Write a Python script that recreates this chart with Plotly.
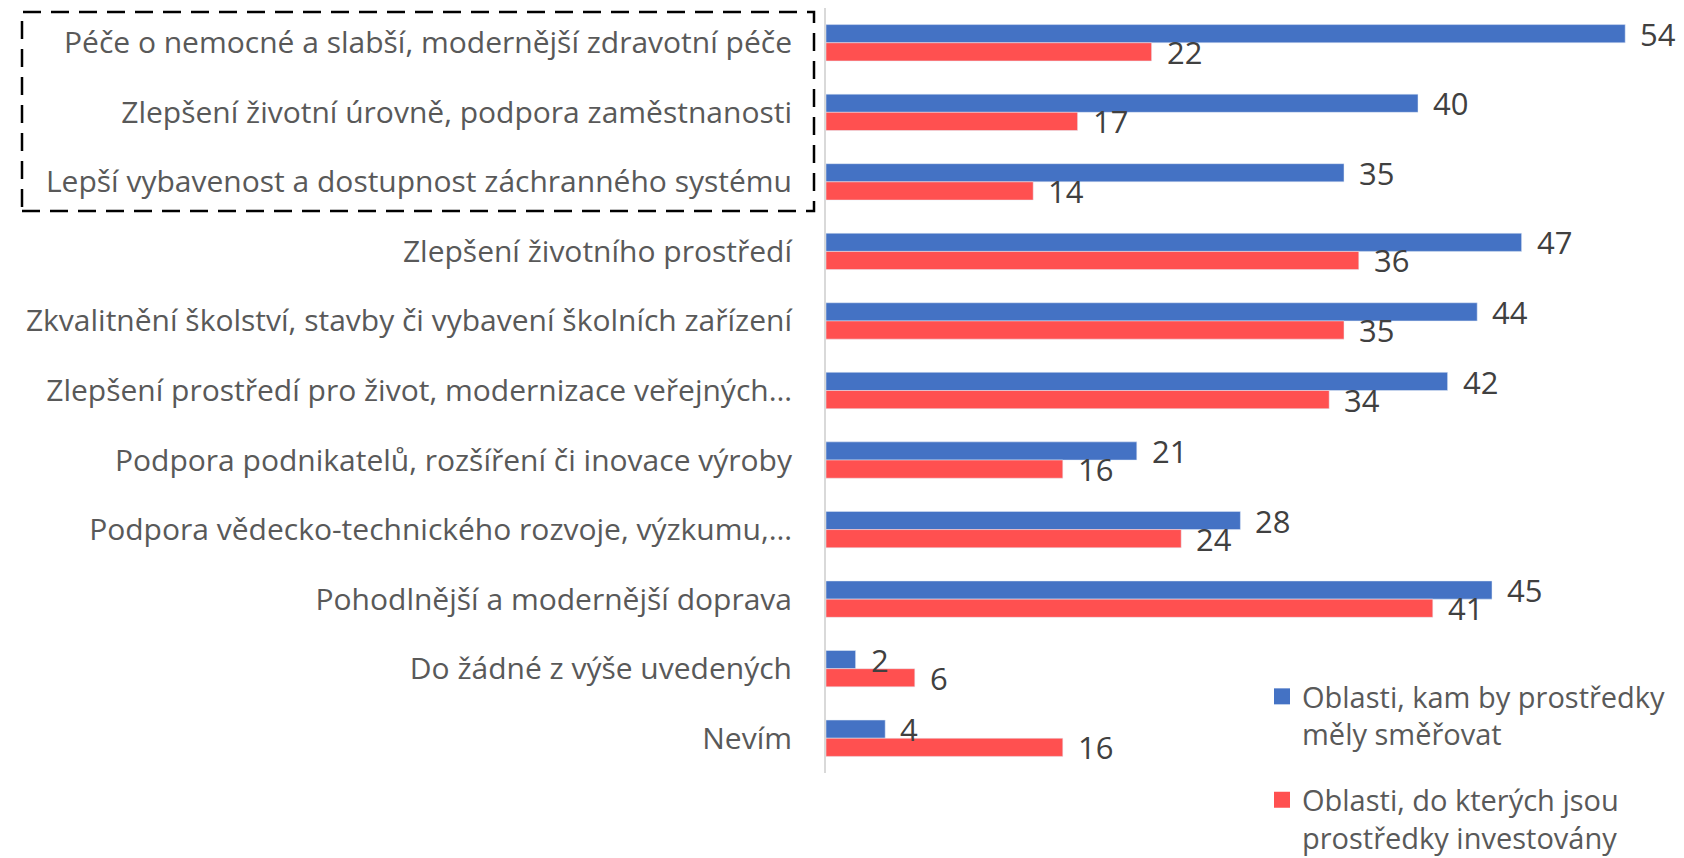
import plotly.graph_objects as go

categories = [
    "Péče o nemocné a slabší, modernější zdravotní péče",
    "Zlepšení životní úrovně, podpora zaměstnanosti",
    "Lepší vybavenost a dostupnost záchranného systému",
    "Zlepšení životního prostředí",
    "Zkvalitnění školství, stavby či vybavení školních zařízení",
    "Zlepšení prostředí pro život, modernizace veřejných…",
    "Podpora podnikatelů, rozšíření či inovace výroby",
    "Podpora vědecko-technického rozvoje, výzkumu,…",
    "Pohodlnější a modernější doprava",
    "Do žádné z výše uvedených",
    "Nevím",
]
should_go = [54, 40, 35, 47, 44, 42, 21, 28, 45, 2, 4]
invested = [22, 17, 14, 36, 35, 34, 16, 24, 41, 6, 16]
series_names = [
    "Oblasti, kam by prostředky<br>měly směřovat",
    "Oblasti, do kterých jsou<br>prostředky investovány",
]

BLUE = "#4472C4"
RED = "#FF5050"
FONT = "Open Sans"

# page body has an 8px margin, so the figure is made smaller
OFF = 8
W, H = 1684 - OFF, 858 - OFF
L, R, T = 818, 24, 0
B = H - (773 - OFF)
px_per_unit = 14.8
plot_w = W - L - R
plot_h = H - T - B


def px_x(px):
    # page pixel -> paper x
    return (px - OFF - L) / plot_w


def px_y(py):
    # page pixel -> paper y
    return (H - B - (py - OFF)) / plot_h


fig = go.Figure()

fig.add_trace(go.Bar(y=categories, x=should_go, orientation="h", name=series_names[0],
                     marker=dict(color=BLUE), showlegend=False))
fig.add_trace(go.Bar(y=categories, x=invested, orientation="h", name=series_names[1],
                     marker=dict(color=RED), showlegend=False))

# legend-only markers so the swatches can be sized
for name, col, grp in [(series_names[0], BLUE, "a"), (series_names[1], RED, "b")]:
    fig.add_trace(go.Scatter(x=[None], y=[None], mode="markers", name=name, legendgroup=grp,
                             marker=dict(symbol="square", size=19, color=col)))

annotations = []
for vals, shift in [(should_go, 9), (invested, -9)]:
    for cat, v in zip(categories, vals):
        annotations.append(dict(x=v, y=cat, xref="x", yref="y", text=str(v), showarrow=False,
                                xanchor="left", yanchor="middle", xshift=13, yshift=shift,
                                font=dict(family=FONT, size=31, color="#404040")))

fig.update_layout(
    width=W, height=H,
    margin=dict(l=L, r=R, t=T, b=B, autoexpand=False),
    plot_bgcolor="white", paper_bgcolor="white",
    barmode="group", bargap=0.477, bargroupgap=0,
    font=dict(family=FONT, size=30, color="#595959"),
    xaxis=dict(range=[0, plot_w / px_per_unit], showgrid=False, zeroline=False,
               showticklabels=False, showline=False, automargin=False),
    yaxis=dict(autorange="reversed", showgrid=False, showline=True, linecolor="#d9d9d9",
               linewidth=2, ticks="", ticklabelstandoff=26, automargin=False,
               tickfont=dict(family=FONT, size=30, color="#595959")),
    legend=dict(x=px_x(1262), y=px_y(671), xanchor="left", yanchor="top",
                valign="top", tracegroupgap=25, font=dict(family=FONT, size=29, color="#595959"),
                bgcolor="rgba(0,0,0,0)"),
    annotations=annotations,
    shapes=[dict(type="rect", xref="paper", yref="paper",
                 x0=px_x(22), x1=px_x(814), y0=px_y(211), y1=px_y(12),
                 line=dict(color="black", width=2.5, dash="18px,10px"))],
)

fig.write_html("out.html")
